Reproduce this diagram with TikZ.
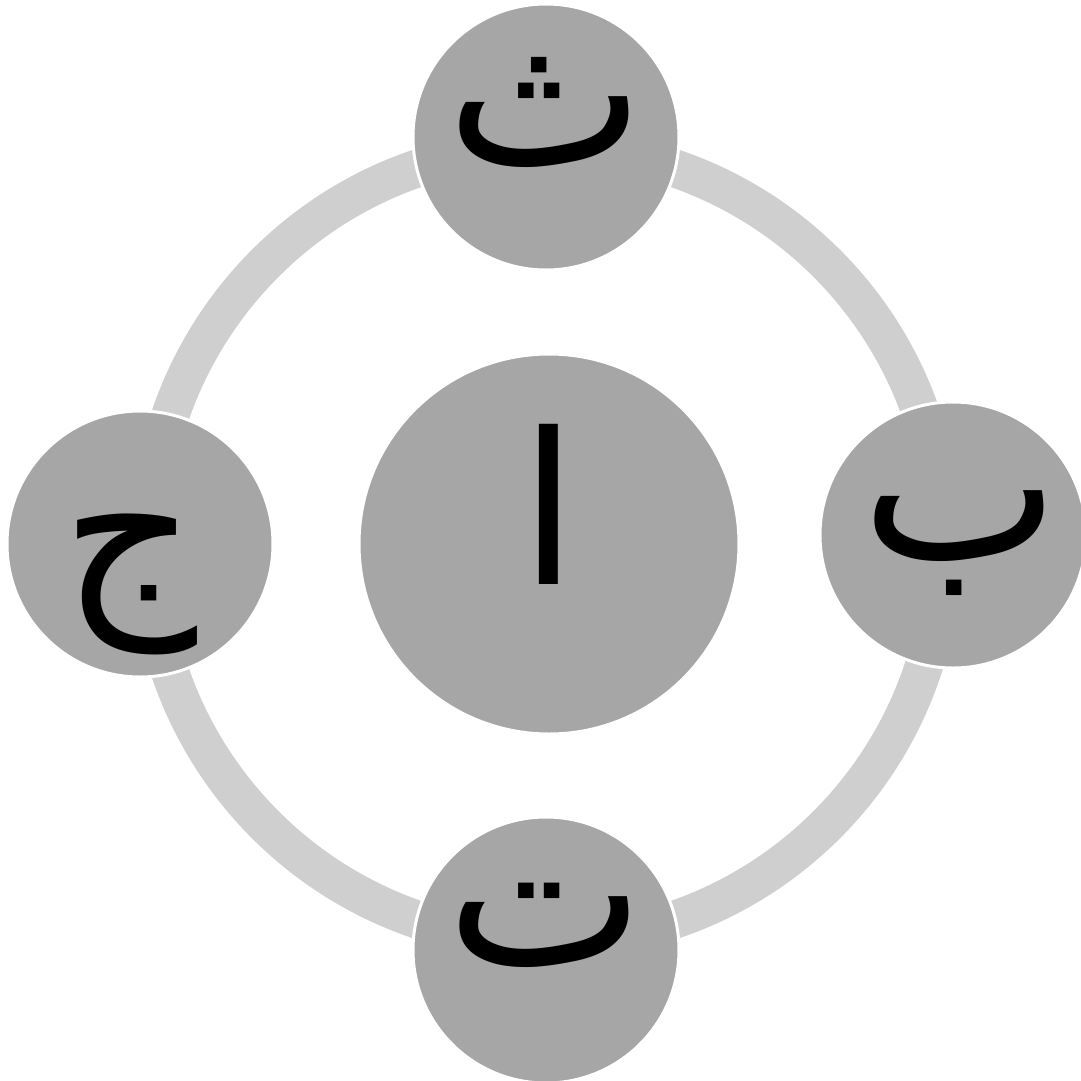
\documentclass[tikz,border=0pt]{standalone}
\usepackage{fontspec}
\newfontfamily\arabicfont[Script=Arabic]{DejaVu Sans}
\TeXXeTstate=1
\usepackage{tikz}
\definecolor{ringColor}{HTML}{CFCFCF}
\definecolor{discColor}{HTML}{A6A6A6}

\begin{document}
\begin{tikzpicture}[x=0.1mm, y=-0.1mm,
    disc/.style={circle, fill=discColor, draw=white, line width=0.3mm,
        inner sep=0pt, minimum size=26.6mm},
    hub/.style={disc, minimum size=38mm},
    letter/.style={inner sep=0pt, font=\arabicfont\fontsize{60}{72}\selectfont}]
    \useasboundingbox (0,0) rectangle (1081,1081);
    % ring behind the discs
    \coordinate (ringCentre) at (546,544);
    \draw[ringColor, line width=3.8mm] (ringCentre) circle (39.7mm);
    % centre and the four discs round it
    \node[hub] (alif) at (549,544) {};
    \node[disc] (tha) at (546,137) {};
    \node[disc] (ba) at (953,535) {};
    \node[disc] (ta) at (546,950) {};
    \node[disc] (jim) at (140,544) {};
    % letters
    \node[letter] (alifText) at ([yshift=4mm]alif) {\beginR ا\endR};
    \node[letter] (thaText) at ([yshift=2.5mm]tha) {\beginR ث\endR};
    \node[letter] (baText) at ([xshift=0.8mm, yshift=-0.8mm]ba) {\beginR ب\endR};
    \node[letter] (taText) at ([yshift=2.5mm]ta) {\beginR ت\endR};
    \node[letter] (jimText) at ([xshift=-1mm, yshift=-4mm]jim) {\beginR ج\endR};
\end{tikzpicture}
\end{document}
